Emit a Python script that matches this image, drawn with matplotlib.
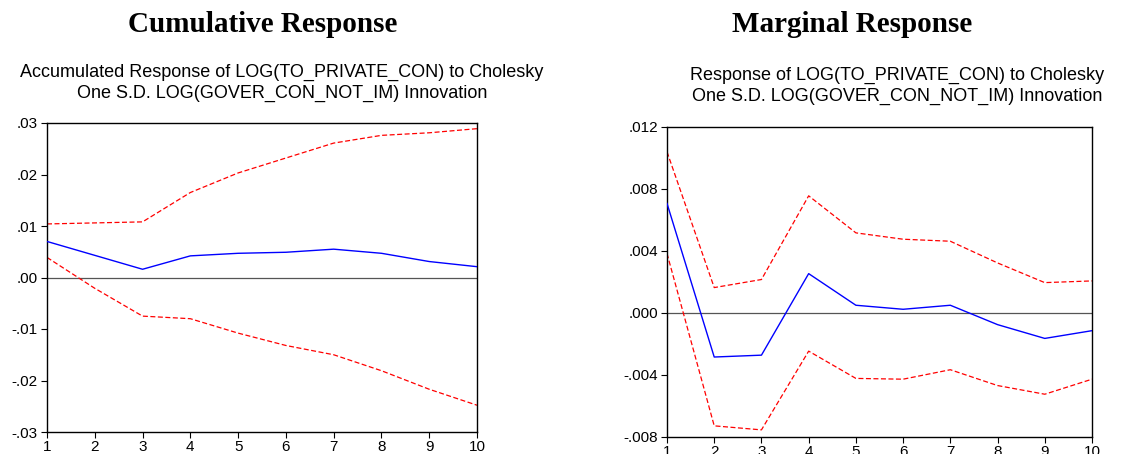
import matplotlib
matplotlib.use("Agg")
import matplotlib.pyplot as plt
from matplotlib.ticker import FuncFormatter

# periods
periods = [1, 2, 3, 4, 5, 6, 7, 8, 9, 10]

# accumulated response (left panel)
cum_resp = [0.0070, 0.0043, 0.0016, 0.0042, 0.0047, 0.0049, 0.0055, 0.0047, 0.0031, 0.0021]
cum_upper = [0.0104, 0.0106, 0.0108, 0.0165, 0.0203, 0.0232, 0.0261, 0.0276, 0.0281, 0.0289]
cum_lower = [0.0039, -0.0021, -0.0075, -0.0080, -0.0108, -0.0132, -0.0150, -0.0181, -0.0217, -0.0248]

# marginal response (right panel)
marg_resp = [0.00707, -0.00284, -0.00272, 0.00254, 0.00050, 0.00024, 0.00050, -0.00075, -0.00164, -0.00114]
marg_upper = [0.01040, 0.00164, 0.00216, 0.00756, 0.00517, 0.00476, 0.00463, 0.00323, 0.00196, 0.00207]
marg_lower = [0.00384, -0.00728, -0.00754, -0.00246, -0.00422, -0.00427, -0.00366, -0.00468, -0.00524, -0.00427]

cum_yticks = [-0.03, -0.02, -0.01, 0.0, 0.01, 0.02, 0.03]
marg_yticks = [-0.008, -0.004, 0.0, 0.004, 0.008, 0.012]

sans = ["Liberation Sans", "DejaVu Sans"]
serif = ["Liberation Serif", "DejaVu Serif"]


def eviews_fmt(decimals):
    # EViews style: drop the leading zero, e.g. .01 / -.004
    def f(v, pos):
        s = f"{v:.{decimals}f}"
        if s.startswith("-0"):
            s = "-" + s[2:]
        elif s.startswith("0"):
            s = s[1:]
        return s
    return FuncFormatter(f)


def draw_panel(ax, resp, upper, lower, yticks, decimals):
    ax.axhline(0, color="#555555", lw=0.9, zorder=1)
    ax.plot(periods, upper, color="red", lw=0.9, ls=(0, (4, 2)), zorder=2)
    ax.plot(periods, lower, color="red", lw=0.9, ls=(0, (4, 2)), zorder=2)
    ax.plot(periods, resp, color="blue", lw=1.0, zorder=3)
    ax.set_xlim(1, 10)
    ax.set_ylim(yticks[0], yticks[-1])
    ax.set_xticks(periods)
    ax.set_yticks(yticks)
    ax.yaxis.set_major_formatter(eviews_fmt(decimals))
    ax.tick_params(direction="out", length=4.5, width=0.8, pad=2, labelsize=11)
    ax.tick_params(axis="x", pad=1)
    for lab in ax.get_xticklabels() + ax.get_yticklabels():
        lab.set_family(sans)
    for sp in ax.spines.values():
        sp.set_linewidth(1.0)
        sp.set_color("black")


fig = plt.figure(figsize=(11.31, 4.54), dpi=100)

ax1 = fig.add_axes([47 / 1131, 22 / 454, 430 / 1131, 309 / 454])
draw_panel(ax1, cum_resp, cum_upper, cum_lower, cum_yticks, 2)

ax2 = fig.add_axes([667 / 1131, 17 / 454, 425 / 1131, 310 / 454])
draw_panel(ax2, marg_resp, marg_upper, marg_lower, marg_yticks, 3)

fig.text(263 / 1131, 1 - 25 / 454, "Cumulative Response", ha="center", va="center",
         fontsize=21, fontweight="bold", family=serif)
fig.text(852 / 1131, 1 - 25 / 454, "Marginal Response", ha="center", va="center",
         fontsize=21, fontweight="bold", family=serif)

fig.text(282 / 1131, 1 - 83 / 454,
         "Accumulated Response of LOG(TO_PRIVATE_CON) to Cholesky\nOne S.D. LOG(GOVER_CON_NOT_IM) Innovation",
         ha="center", va="center", fontsize=13, family=sans, linespacing=1.25)
fig.text(897 / 1131, 1 - 86 / 454,
         "Response of LOG(TO_PRIVATE_CON) to Cholesky\nOne S.D. LOG(GOVER_CON_NOT_IM) Innovation",
         ha="center", va="center", fontsize=13, family=sans, linespacing=1.25)

fig.savefig("out.png", dpi=100)
